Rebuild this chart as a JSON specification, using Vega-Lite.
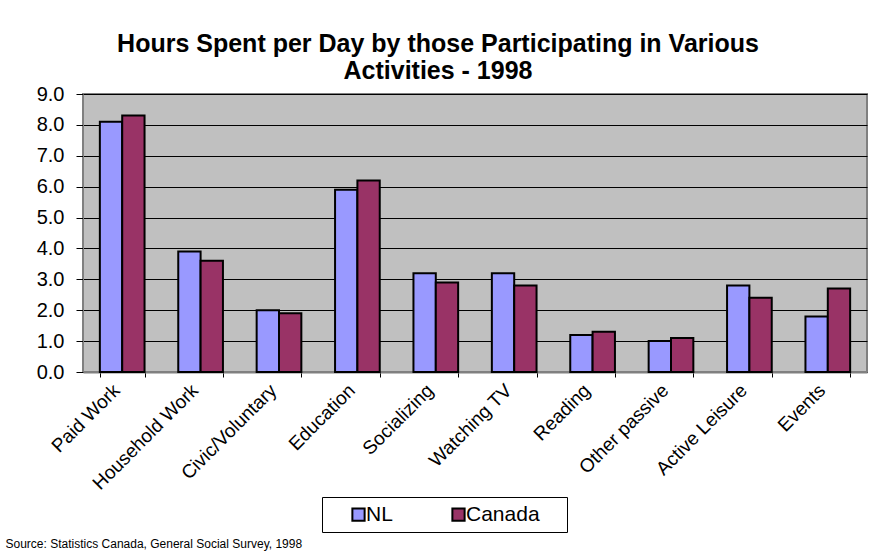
{
  "$schema": "https://vega.github.io/schema/vega-lite/v6.json",
  "width": 784,
  "height": 278,
  "autosize": {"type": "none"},
  "padding": {"left": 83, "top": 94, "right": 8, "bottom": 181},
  "background": "white",
  "title": {
    "text": ["Hours Spent per Day by those Participating in Various", "Activities - 1998"],
    "font": "Liberation Sans",
    "fontSize": 25,
    "fontWeight": "bold",
    "color": "black",
    "anchor": "middle",
    "dx": -37,
    "offset": 0,
    "lineHeight": 27
  },
  "data": {
    "values": [
      {"activity": "Paid Work", "region": "NL", "hours": 8.1},
      {"activity": "Paid Work", "region": "Canada", "hours": 8.3},
      {"activity": "Household Work", "region": "NL", "hours": 3.9},
      {"activity": "Household Work", "region": "Canada", "hours": 3.6},
      {"activity": "Civic/Voluntary", "region": "NL", "hours": 2.0},
      {"activity": "Civic/Voluntary", "region": "Canada", "hours": 1.9},
      {"activity": "Education", "region": "NL", "hours": 5.9},
      {"activity": "Education", "region": "Canada", "hours": 6.2},
      {"activity": "Socializing", "region": "NL", "hours": 3.2},
      {"activity": "Socializing", "region": "Canada", "hours": 2.9},
      {"activity": "Watching TV", "region": "NL", "hours": 3.2},
      {"activity": "Watching TV", "region": "Canada", "hours": 2.8},
      {"activity": "Reading", "region": "NL", "hours": 1.2},
      {"activity": "Reading", "region": "Canada", "hours": 1.3},
      {"activity": "Other passive", "region": "NL", "hours": 1.0},
      {"activity": "Other passive", "region": "Canada", "hours": 1.1},
      {"activity": "Active Leisure", "region": "NL", "hours": 2.8},
      {"activity": "Active Leisure", "region": "Canada", "hours": 2.4},
      {"activity": "Events", "region": "NL", "hours": 1.8},
      {"activity": "Events", "region": "Canada", "hours": 2.7}
    ]
  },
  "mark": {"type": "bar", "stroke": "black", "strokeWidth": 2},
  "encoding": {
    "x": {
      "field": "activity",
      "type": "nominal",
      "sort": null,
      "scale": {"paddingInner": 0.43, "paddingOuter": 0.215},
      "axis": {
        "title": "Source: Statistics Canada, General Social Survey, 1998",
        "titleFont": "Liberation Sans",
        "titleFontSize": 12,
        "titleFontWeight": "normal",
        "titleColor": "black",
        "titleAnchor": "start",
        "titleAlign": "left",
        "titleBaseline": "middle",
        "titleX": -78,
        "titleY": 171,
        "labelAngle": -45,
        "labelAlign": "right",
        "labelBaseline": "middle",
        "labelFont": "Liberation Sans",
        "labelFontSize": 19,
        "labelColor": "black",
        "labelPadding": 10,
        "labelOffset": -6,
        "tickBand": "extent",
        "tickColor": "black",
        "tickSize": 5,
        "domainColor": "#808080",
        "domainWidth": 2,
        "grid": false
      }
    },
    "xOffset": {"field": "region", "type": "nominal", "sort": ["NL", "Canada"]},
    "y": {
      "field": "hours",
      "type": "quantitative",
      "scale": {"domain": [0, 9]},
      "axis": {
        "title": null,
        "values": [0, 1, 2, 3, 4, 5, 6, 7, 8, 9],
        "format": ".1f",
        "labelFont": "Liberation Sans",
        "labelFontSize": 20,
        "labelColor": "black",
        "labelPadding": 12,
        "tickColor": "black",
        "tickSize": 7,
        "domainColor": "#808080",
        "domainWidth": 1,
        "grid": true,
        "gridColor": "black",
        "gridWidth": 1
      }
    },
    "fill": {
      "field": "region",
      "type": "nominal",
      "sort": ["NL", "Canada"],
      "scale": {"domain": ["NL", "Canada"], "range": ["#9999FF", "#993366"]},
      "legend": {
        "title": " ",
        "titleOrient": "right",
        "titlePadding": 20,
        "titleFontSize": 19,
        "orient": "none",
        "legendX": 239,
        "legendY": 403,
        "direction": "horizontal",
        "strokeColor": "black",
        "padding": 7,
        "symbolType": "square",
        "symbolSize": 150,
        "symbolOffset": 19,
        "symbolStrokeColor": "black",
        "symbolStrokeWidth": 2,
        "symbolOpacity": 1,
        "labelFont": "Liberation Sans",
        "labelFontSize": 21,
        "labelColor": "black",
        "labelOffset": -3,
        "columnPadding": 36
      }
    }
  },
  "config": {
    "view": {"fill": "#C0C0C0", "stroke": "#808080", "strokeWidth": 2},
    "axis": {"gridOpacity": 1}
  }
}
